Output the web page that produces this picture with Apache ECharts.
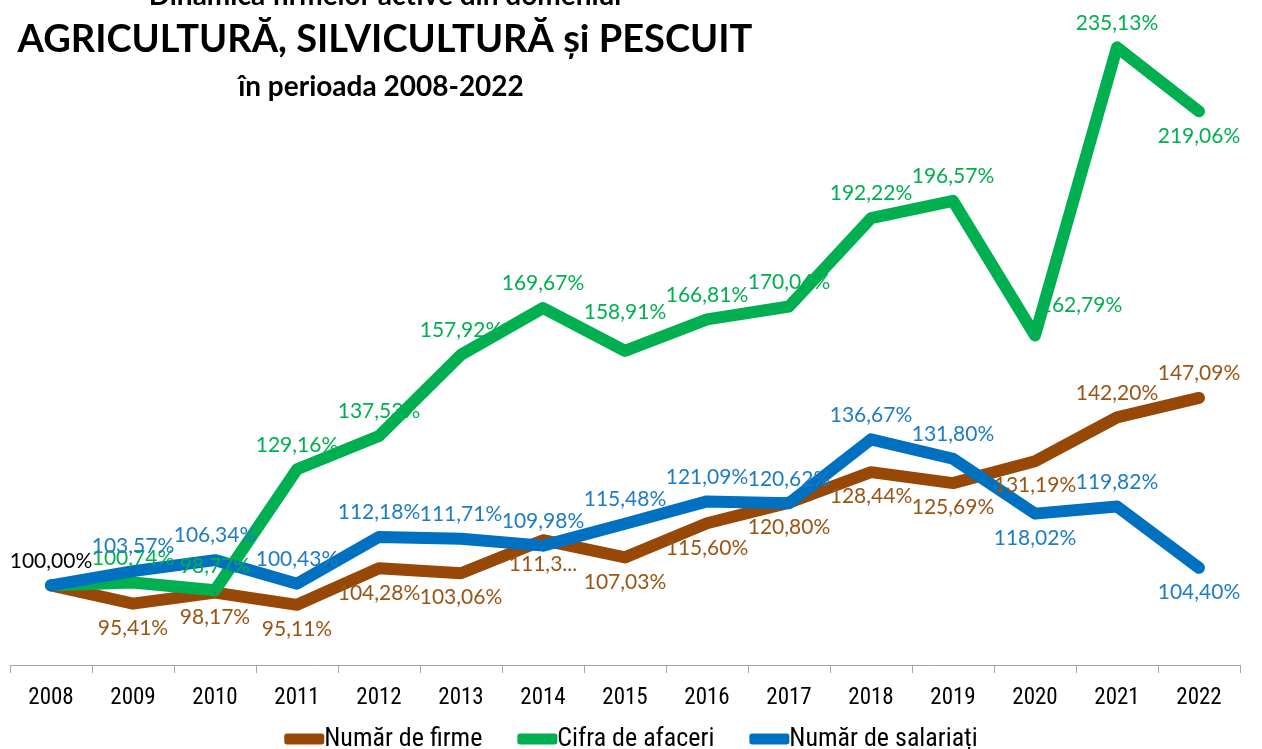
<!DOCTYPE html>
<html>
<head>
<meta charset="utf-8">
<script src="https://cdn.jsdelivr.net/npm/echarts@6/dist/echarts.min.js"></script>
<style>
  html, body { margin: 0; padding: 0; background: #fff; }
  #chart { width: 1262px; height: 749px; }
</style>
</head>
<body>
<div id="chart"></div>
<script>
const years = ['2008', '2009', '2010', '2011', '2012', '2013', '2014', '2015', '2016', '2017', '2018', '2019', '2020', '2021', '2022']
const firme = [100.00, 95.41, 98.17, 95.11, 104.28, 103.06, 111.34, 107.03, 115.60, 120.80, 128.44, 125.69, 131.19, 142.20, 147.09]
const cifra = [100.00, 100.74, 98.77, 129.16, 137.53, 157.92, 169.67, 158.91, 166.81, 170.04, 192.22, 196.57, 162.79, 235.13, 219.06]
const salariati = [100.00, 103.57, 106.34, 100.43, 112.18, 111.71, 109.98, 115.48, 121.09, 120.62, 136.67, 131.80, 118.02, 119.82, 104.40]

// where each value label sits (t = top, T = higher top, b = bottom, r = top-right, n = none)
const firmePos = ['t', 'b', 'b', 'b', 'b', 'b', 'b', 'b', 'b', 'b', 'b', 'b', 'b', 't', 't']
const cifraPos = ['n', 't', 't', 't', 't', 't', 't', 'T', 't', 't', 't', 't', 'r', 't', 'b']
const salariatiPos = ['n', 't', 't', 't', 't', 't', 't', 't', 't', 't', 't', 't', 'b', 't', 'b']

const BROWN = '#974806'
const GREEN = '#00B050'
const BLUE = '#0070C0'
const FONT = 'Lato, "Noto Sans", sans-serif'
const NARROW = '"Liberation Sans Narrow", "Roboto Condensed", Roboto, sans-serif'

function fmt(v) {
  return v.toFixed(2).replace('.', ',') + '%'
}

function buildData(values, pos, labelColor) {
  return values.map((v, i) => {
    const p = pos[i]
    const label = { show: p !== 'n', color: labelColor }
    if (p === 'b') label.position = 'bottom'
    if (p === 'T') { label.position = [1, -38]; label.align = 'center'; label.verticalAlign = 'middle' }
    if (p === 'r') { label.position = [47, -29]; label.align = 'center'; label.verticalAlign = 'middle' }
    if (i === 0) label.color = '#000'
    if (years[i] === '2014' && values === firme) label.formatter = '111,3...'
    return { value: v, label }
  })
}

function lineSeries(name, values, pos, color, labelColor) {
  return {
    name: name,
    type: 'line',
    data: buildData(values, pos, labelColor),
    symbol: 'circle',
    symbolSize: 2,
    lineStyle: { width: 12, color: color, cap: 'round', join: 'round' },
    itemStyle: { color: color },
    label: {
      show: true,
      position: 'top',
      distance: 13,
      fontFamily: FONT,
      fontSize: 21,
      formatter: (p) => fmt(p.value)
    },
    labelLayout: { hideOverlap: false },
    emphasis: { disabled: true },
    animation: false
  }
}

const chart = echarts.init(document.getElementById('chart'))
chart.setOption({
  backgroundColor: '#fff',
  graphic: [
    { type: 'text', x: 385, y: -4, style: { text: 'Dinamica firmelor active din domeniul', font: 'bold 28px Lato, sans-serif', fill: '#000', textAlign: 'center', textVerticalAlign: 'middle' } },
    { type: 'text', x: 385, y: 40, style: { text: 'AGRICULTURĂ, SILVICULTURĂ și PESCUIT', font: 'bold 38px Lato, sans-serif', fill: '#000', textAlign: 'center', textVerticalAlign: 'middle' } },
    { type: 'text', x: 381, y: 87, style: { text: 'în perioada 2008-2022', font: 'bold 28px Lato, sans-serif', fill: '#000', textAlign: 'center', textVerticalAlign: 'middle' } }
  ],
  grid: { left: 10, right: 22, top: 28, bottom: 84 },
  legend: {
    bottom: -8,
    left: 'center',
    itemWidth: 40,
    itemHeight: 11,
    itemGap: 35,
    icon: 'roundRect',
    textStyle: { fontFamily: NARROW, fontSize: 26, color: '#000', padding: [0, 0, 0, -5] },
    data: ['Număr de firme', 'Cifra de afaceri', 'Număr de salariați']
  },
  xAxis: {
    type: 'category',
    data: years,
    boundaryGap: true,
    axisLine: { lineStyle: { color: '#A6A6A6', width: 1 } },
    axisTick: { show: true, interval: 0, length: 8, lineStyle: { color: '#A6A6A6' } },
    axisLabel: { interval: 0, margin: 22, color: '#000', fontSize: 23, fontFamily: NARROW }
  },
  yAxis: {
    type: 'value',
    min: 80,
    max: 240,
    show: false,
    splitLine: { show: false }
  },
  series: [
    lineSeries('Număr de firme', firme, firmePos, BROWN, '#9A5515'),
    lineSeries('Cifra de afaceri', cifra, cifraPos, GREEN, '#00B050'),
    lineSeries('Număr de salariați', salariati, salariatiPos, BLUE, '#1C7CC9')
  ]
})
</script>
</body>
</html>
